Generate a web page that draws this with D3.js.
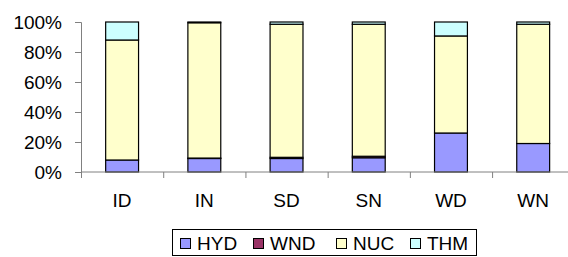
<!DOCTYPE html>
<html>
<head>
<meta charset="utf-8">
<script src="https://cdn.jsdelivr.net/npm/d3@7"></script>
<style>
  body { margin: 0; background: #fff; }
  svg text { font-family: "Liberation Sans", Arial, sans-serif; fill: #000; }
</style>
</head>
<body>
<div id="chart"></div>
<script>
// categories and series (percent of total)
const categories = ["ID", "IN", "SD", "SN", "WD", "WN"];
const seriesNames = ["HYD", "WND", "NUC", "THM"];
const hyd = [8, 9, 9, 9.5, 26, 19];
const wnd = [0, 0.3, 0.8, 1, 0, 0];
const nuc = [80, 90.2, 88.7, 88, 64.7, 79.5];
const thm = [12, 0.5, 1.5, 1.5, 9.3, 1.5];
const yTicks = [0, 20, 40, 60, 80, 100];
const colors = ["#9999FF", "#993366", "#FFFFCC", "#CCFFFF"];

const width = 568, height = 257;
const margin = { left: 81, top: 22 };

// build rows for the stack
const rows = categories.map((c, i) => ({
  cat: c, HYD: hyd[i], WND: wnd[i], NUC: nuc[i], THM: thm[i]
}));
const stacked = d3.stack().keys(seriesNames)(rows);

let svg = d3.select("#chart")
  .append("svg")
  .attr("width", width)
  .attr("height", height);

let xScale = d3.scaleBand()
  .domain(categories)
  .range([margin.left, 574.3])
  .paddingInner(0.6)
  .paddingOuter(0.3);

let yScale = d3.scaleLinear()
  .domain([0, 100])
  .range([172, margin.top]);

// bars
svg.append("g")
  .selectAll("g")
  .data(stacked)
  .enter()
  .append("g")
  .attr("fill", (d, i) => colors[i])
  .selectAll("rect")
  .data(d => d)
  .enter()
  .append("rect")
  .attr("x", d => xScale(d.data.cat))
  .attr("width", xScale.bandwidth())
  .attr("y", d => yScale(d[1]))
  .attr("height", d => yScale(d[0]) - yScale(d[1]))
  .attr("stroke", "#000")
  .attr("stroke-width", 1.2);

// y axis
let yAxis = svg.append("g")
  .attr("transform", "translate(" + margin.left + ",0)")
  .call(d3.axisLeft(yScale).tickValues(yTicks).tickSize(6).tickPadding(13)
    .tickFormat(d => d + "%"));
yAxis.select(".domain").attr("stroke", "#808080");
yAxis.selectAll(".tick line").attr("stroke", "#808080");
yAxis.selectAll("text").style("font-size", "19px");

// x axis: ticks sit on category boundaries
const step = xScale.step();
const xStart = xScale(categories[0]) - xScale.paddingOuter() * step;
let xg = svg.append("g");
xg.append("line")
  .attr("x1", margin.left).attr("x2", width)
  .attr("y1", yScale(0)).attr("y2", yScale(0))
  .attr("stroke", "#808080");
xg.selectAll(".xtick")
  .data(d3.range(categories.length + 1))
  .enter()
  .append("line")
  .attr("x1", i => xStart + i * step + 0.5)
  .attr("x2", i => xStart + i * step + 0.5)
  .attr("y1", yScale(0))
  .attr("y2", yScale(0) + 6)
  .attr("stroke", "#808080");
xg.selectAll(".xlabel")
  .data(categories)
  .enter()
  .append("text")
  .attr("x", d => xScale(d) + xScale.bandwidth() / 2)
  .attr("y", 207)
  .attr("text-anchor", "middle")
  .style("font-size", "19px")
  .text(d => d);

// legend
let legend = svg.append("g");
legend.append("rect")
  .attr("x", 172.5).attr("y", 229.5)
  .attr("width", 304).attr("height", 26)
  .attr("fill", "#fff")
  .attr("stroke", "#000");
const legendX = [180, 253, 336, 410];
seriesNames.forEach((s, i) => {
  legend.append("rect")
    .attr("x", legendX[i] + 0.5).attr("y", 238.5)
    .attr("width", 10).attr("height", 10)
    .attr("fill", colors[i])
    .attr("stroke", "#000");
  legend.append("text")
    .attr("x", legendX[i] + 17)
    .attr("y", 250)
    .style("font-size", "19px")
    .text(s);
});
</script>
</body>
</html>
